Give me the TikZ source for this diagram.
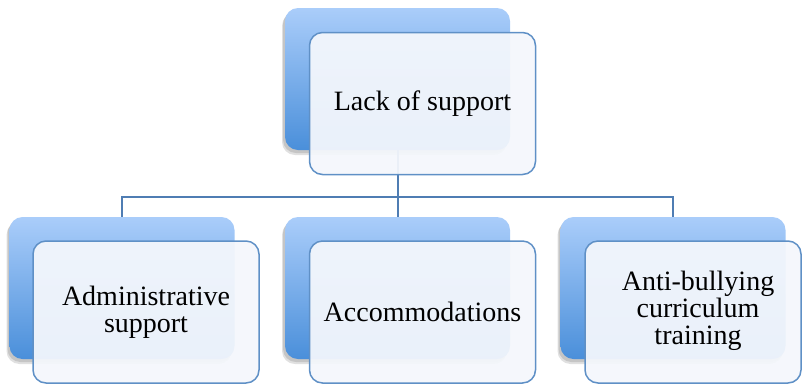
\documentclass[tikz,border=0pt]{standalone}
\usepackage{fontspec}
\setmainfont{Liberation Serif}
\usetikzlibrary{shadows}
\definecolor{backtop}{HTML}{AACDFA}
\definecolor{backbot}{HTML}{4A8FDA}
\definecolor{frontfill}{HTML}{F4F7FC}
\definecolor{frontline}{HTML}{5F90C6}
\definecolor{linkcol}{HTML}{4F7DB3}
\tikzset{
  backbox/.style={rectangle, rounded corners=13pt, minimum width=225pt, minimum height=142pt,
    top color=backtop, bottom color=backbot, draw=none,
    drop shadow={shadow xshift=-3pt, shadow yshift=-5pt, opacity=0.12, fill=black},
    drop shadow={shadow xshift=-2pt, shadow yshift=-3pt, opacity=0.12, fill=black}},
  frontbox/.style={rectangle, rounded corners=13pt, minimum width=226pt, minimum height=142pt,
    draw=frontline, line width=1.5pt, fill=frontfill, fill opacity=0.94, text opacity=1,
    align=center, font=\fontsize{28}{27}\selectfont, inner sep=0pt},
  link/.style={draw=linkcol, line width=2pt}
}
\begin{document}
\begin{tikzpicture}[x=1pt,y=-1pt]
\useasboundingbox (0,0) rectangle (802,384);
% back boxes
\node[backbox] (btop) at (397.5,79) {};
\node[backbox] (bl) at (122,288) {};
\node[backbox] (bm) at (397.5,288) {};
\node[backbox] (br) at (673,288) {};
% connectors
\coordinate (j) at (397.5,197);
\draw[link] (btop.south) -- (j);
\draw[link] (bl.north) |- (j) -| (br.north);
\draw[link] (j) -- (bm.north);
% front boxes
\node[frontbox] (ftop) at (422.5,103.5) {Lack of support};
\node[frontbox] (fl) at (146,312) {Administrative\\support};
\node[frontbox] (fm) at (422.5,312) {Accommodations};
\node[frontbox, minimum width=216pt] (fr) at (693,312) {\hspace*{10pt}\begin{tabular}{@{}c@{}}Anti-bullying\\curriculum\\training\end{tabular}};
\end{tikzpicture}
\end{document}
